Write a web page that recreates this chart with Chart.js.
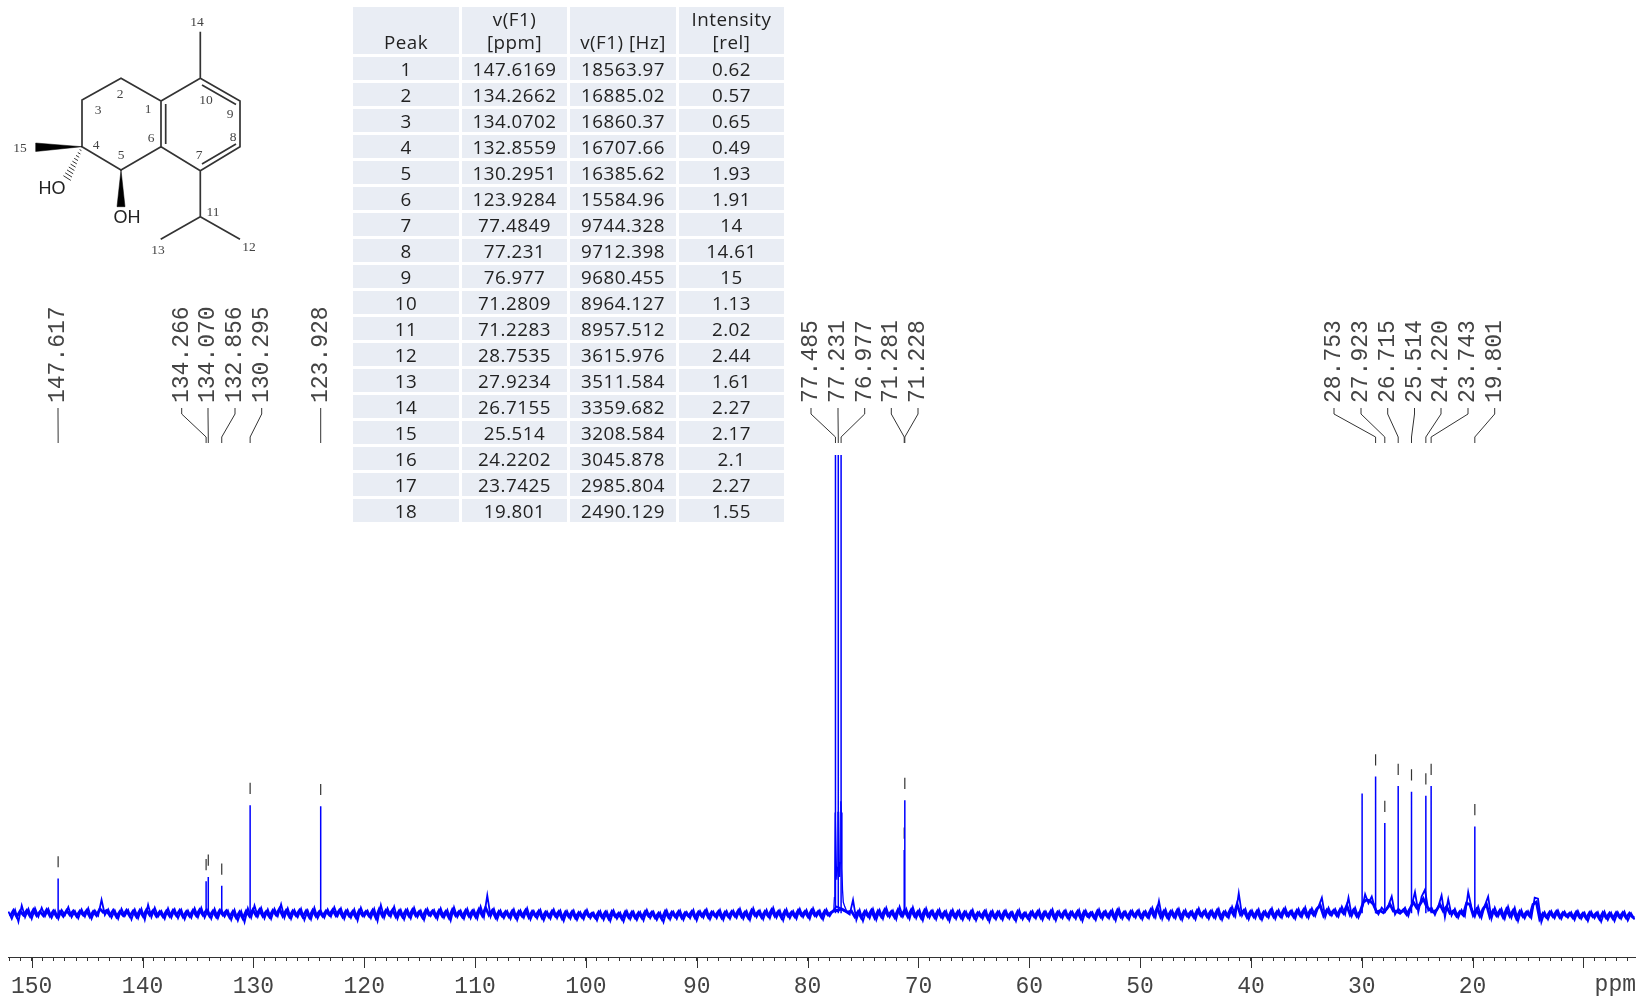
<!DOCTYPE html>
<html>
<head>
<meta charset="utf-8">
<title>13C NMR</title>
<script src="https://cdn.jsdelivr.net/npm/chart.js@4/dist/chart.umd.min.js"></script>
<style>
    html, body { margin: 0; padding: 0; background: #fff; }
    #wrap { position: relative; width: 1641px; height: 1001px; overflow: hidden; }
    canvas { position: absolute; left: 0; top: 0; display: block; }
    #molecule { position: absolute; left: 0; top: 0; filter: blur(0.35px); }
    #molecule text.num { font: 13.5px "Liberation Serif"; fill: #444; text-anchor: middle; dominant-baseline: central; }
    #molecule text.atom { font: 18px "Liberation Sans"; fill: #222; text-anchor: middle; dominant-baseline: central; }
    #peaks { position: absolute; left: 350px; top: 4px; border-collapse: separate; border-spacing: 3px; table-layout: fixed;
        font: 18.8px "Open Sans"; letter-spacing: 0.5px; color: #222; }
    #peaks td { height: 21px; padding: 2px 0 0; line-height: 21px; background: #e9edf4; text-align: center; vertical-align: bottom; white-space: pre-line; }
    #peaks td:nth-child(1), #peaks td:nth-child(3) { width: 106px; }
    #peaks td:nth-child(2), #peaks td:nth-child(4) { width: 105px; }
    #peaks tr:first-child td { height: 46px; padding: 1px 0 0; line-height: 23px; }
</style>
</head>
<body>
<div id="wrap">
    <canvas id="chart" width="1641" height="1001"></canvas>
    <svg id="molecule" width="340" height="290" stroke="#333" stroke-width="1.7" fill="none">
        <path d="M200.3 31.7V78.3L240 101V146.7L200.3 170.7L161 146.7V101L200.3 78.3M161 101L121 78.3L82 100V146.7L121 170L161 146.7M200.3 170.7V216.7L160.7 239.3M200.3 216.7L240 239.3"/>
        <path d="M165.7 104V144M202 85L236 104.5M202 164L236 144"/>
        <path d="M82 146.7L35.7 143V151.5Z M121 170L117 206.7H125Z" fill="#000" stroke="#000" stroke-width="0.5"/>
        <path stroke-width="1" d="M79.6 149.6L81.4 150.6M77.8 152.5L80.4 154M76 155.4L79.2 157.3M74.2 158.3L78 160.6M72.4 161.2L76.8 163.9M70.6 164.1L75.6 167.2M68.8 167L74.4 170.5M67 169.9L73.2 173.8M65.2 172.8L72 177.1M63.4 175.7L70.8 180.4"/>
        <g stroke="none">
            <text class="atom" x="52" y="188">HO</text>
            <text class="atom" x="127" y="217">OH</text>
            <text class="num" x="197" y="21">14</text>
            <text class="num" x="206" y="99">10</text>
            <text class="num" x="230" y="113">9</text>
            <text class="num" x="233" y="136">8</text>
            <text class="num" x="199" y="154">7</text>
            <text class="num" x="151" y="137">6</text>
            <text class="num" x="148" y="108">1</text>
            <text class="num" x="120" y="93">2</text>
            <text class="num" x="98" y="109">3</text>
            <text class="num" x="96" y="144">4</text>
            <text class="num" x="121" y="154">5</text>
            <text class="num" x="20" y="147">15</text>
            <text class="num" x="213" y="211">11</text>
            <text class="num" x="249" y="246">12</text>
            <text class="num" x="158" y="249">13</text>
        </g>
    </svg>
    <table id="peaks"></table>
</div>
<script>
const tableHeaders = ['Peak', 'v(F1)\n[ppm]', 'v(F1) [Hz]', 'Intensity\n[rel]']
const peakNo = [1, 2, 3, 4, 5, 6, 7, 8, 9, 10, 11, 12, 13, 14, 15, 16, 17, 18]
const peakPpmText = ['147.6169', '134.2662', '134.0702', '132.8559', '130.2951', '123.9284', '77.4849', '77.231', '76.977', '71.2809', '71.2283', '28.7535', '27.9234', '26.7155', '25.514', '24.2202', '23.7425', '19.801']
const peakHz = ['18563.97', '16885.02', '16860.37', '16707.66', '16385.62', '15584.96', '9744.328', '9712.398', '9680.455', '8964.127', '8957.512', '3615.976', '3511.584', '3359.682', '3208.584', '3045.878', '2985.804', '2490.129']
const peakRel = [0.62, 0.57, 0.65, 0.49, 1.93, 1.91, 14, 14.61, 15, 1.13, 2.02, 2.44, 1.61, 2.27, 2.17, 2.1, 2.27, 1.55]
const peakLabels = ['147.617', '134.266', '134.070', '132.856', '130.295', '123.928', '77.485', '77.231', '76.977', '71.281', '71.228', '28.753', '27.923', '26.715', '25.514', '24.220', '23.743', '19.801']

// peak that was not picked, next to 28.75
const unpickedPpm = [29.97]
const unpickedRel = [2.14]

// CDCl3 skirt
const solventPpm = [77.66, 77.62, 77.58, 77.54, 77.51, 77.46, 77.4, 77.36, 77.3, 77.26, 77.2, 77.14, 77.1, 77.05, 77, 76.95, 76.9, 76.85, 76.78, 76.65, 76.5]
const solventRel = [0.05, 0.12, 0.28, 0.7, 1.8, 1.8, 0.78, 0.6, 0.82, 1.8, 1.8, 0.85, 0.65, 0.9, 2, 1.8, 0.8, 0.42, 0.2, 0.12, 0.05]

// baseline noise
const noisePpm = [
    152.1, 151.8, 151.5, 151.2, 150.9, 150.6, 150.3, 150, 149.7, 149.4,
    149.1, 148.8, 148.5, 148.2, 147.9, 147.6, 147.3, 147, 146.7, 146.4,
    146.1, 145.8, 145.5, 145.2, 144.9, 144.6, 144.3, 144, 143.7, 143.4,
    143.1, 142.8, 142.5, 142.2, 141.9, 141.6, 141.3, 141, 140.7, 140.4,
    140.1, 139.8, 139.5, 139.2, 138.9, 138.6, 138.3, 138, 137.7, 137.4,
    137.1, 136.8, 136.5, 136.2, 135.9, 135.6, 135.3, 135, 134.7, 134.4,
    134.1, 133.8, 133.5, 133.2, 132.9, 132.6, 132.3, 132, 131.7, 131.4,
    131.1, 130.8, 130.5, 130.2, 129.9, 129.6, 129.3, 129, 128.7, 128.4,
    128.1, 127.8, 127.5, 127.2, 126.9, 126.6, 126.3, 126, 125.7, 125.4,
    125.1, 124.8, 124.5, 124.2, 123.9, 123.6, 123.3, 123, 122.7, 122.4,
    122.1, 121.8, 121.5, 121.2, 120.9, 120.6, 120.3, 120, 119.7, 119.4,
    119.1, 118.8, 118.5, 118.2, 117.9, 117.6, 117.3, 117, 116.7, 116.4,
    116.1, 115.8, 115.5, 115.2, 114.9, 114.6, 114.3, 114, 113.7, 113.4,
    113.1, 112.8, 112.5, 112.2, 111.9, 111.6, 111.3, 111, 110.7, 110.4,
    110.1, 109.8, 109.5, 109.2, 108.9, 108.6, 108.3, 108, 107.7, 107.4,
    107.1, 106.8, 106.5, 106.2, 105.9, 105.6, 105.3, 105, 104.7, 104.4,
    104.1, 103.8, 103.5, 103.2, 102.9, 102.6, 102.3, 102, 101.7, 101.4,
    101.1, 100.8, 100.5, 100.2, 99.9, 99.6, 99.3, 99, 98.7, 98.4,
    98.1, 97.8, 97.5, 97.2, 96.9, 96.6, 96.3, 96, 95.7, 95.4,
    95.1, 94.8, 94.5, 94.2, 93.9, 93.6, 93.3, 93, 92.7, 92.4,
    92.1, 91.8, 91.5, 91.2, 90.9, 90.6, 90.3, 90, 89.7, 89.4,
    89.1, 88.8, 88.5, 88.2, 87.9, 87.6, 87.3, 87, 86.7, 86.4,
    86.1, 85.8, 85.5, 85.2, 84.9, 84.6, 84.3, 84, 83.7, 83.4,
    83.1, 82.8, 82.5, 82.2, 81.9, 81.6, 81.3, 81, 80.7, 80.4,
    80.1, 79.8, 79.5, 79.2, 78.9, 78.6, 78.3, 78, 77.7, 77.4,
    77.1, 76.8, 76.5, 76.2, 75.9, 75.6, 75.3, 75, 74.7, 74.4,
    74.1, 73.8, 73.5, 73.2, 72.9, 72.6, 72.3, 72, 71.7, 71.4,
    71.1, 70.8, 70.5, 70.2, 69.9, 69.6, 69.3, 69, 68.7, 68.4,
    68.1, 67.8, 67.5, 67.2, 66.9, 66.6, 66.3, 66, 65.7, 65.4,
    65.1, 64.8, 64.5, 64.2, 63.9, 63.6, 63.3, 63, 62.7, 62.4,
    62.1, 61.8, 61.5, 61.2, 60.9, 60.6, 60.3, 60, 59.7, 59.4,
    59.1, 58.8, 58.5, 58.2, 57.9, 57.6, 57.3, 57, 56.7, 56.4,
    56.1, 55.8, 55.5, 55.2, 54.9, 54.6, 54.3, 54, 53.7, 53.4,
    53.1, 52.8, 52.5, 52.2, 51.9, 51.6, 51.3, 51, 50.7, 50.4,
    50.1, 49.8, 49.5, 49.2, 48.9, 48.6, 48.3, 48, 47.7, 47.4,
    47.1, 46.8, 46.5, 46.2, 45.9, 45.6, 45.3, 45, 44.7, 44.4,
    44.1, 43.8, 43.5, 43.2, 42.9, 42.6, 42.3, 42, 41.7, 41.4,
    41.1, 40.8, 40.5, 40.2, 39.9, 39.6, 39.3, 39, 38.7, 38.4,
    38.1, 37.8, 37.5, 37.2, 36.9, 36.6, 36.3, 36, 35.7, 35.4,
    35.1, 34.8, 34.5, 34.2, 33.9, 33.6, 33.3, 33, 32.7, 32.4,
    32.1, 31.8, 31.5, 31.2, 30.9, 30.6, 30.3, 30, 29.7, 29.4,
    29.1, 28.8, 28.5, 28.2, 27.9, 27.6, 27.3, 27, 26.7, 26.4,
    26.1, 25.8, 25.5, 25.2, 24.9, 24.6, 24.3, 24, 23.7, 23.4,
    23.1, 22.8, 22.5, 22.2, 21.9, 21.6, 21.3, 21, 20.7, 20.4,
    20.1, 19.8, 19.5, 19.2, 18.9, 18.6, 18.3, 18, 17.7, 17.4,
    17.1, 16.8, 16.5, 16.2, 15.9, 15.6, 15.3, 15, 14.7, 14.4,
    14.1, 13.8, 13.5, 13.2, 12.9, 12.6, 12.3, 12, 11.7, 11.4,
    11.1, 10.8, 10.5, 10.2, 9.9, 9.6, 9.3, 9, 8.7, 8.4,
    8.1, 7.8, 7.5, 7.2, 6.9, 6.6, 6.3, 6, 5.7, 5.4
]
const noiseRel = [
    0.03, -0.1, 0.06, -0.15, 0.14, -0.07, 0.08, -0.1, 0.09, -0.06,
    0.1, -0.05, 0.08, -0.08, 0.05, -0.1, 0.06, -0.03, 0.11, -0.07,
    0.04, -0.09, 0.07, -0.06, 0.09, -0.1, 0.05, -0.04, 0.24, -0.03,
    0.07, -0.08, 0.05, -0.1, 0.08, -0.05, 0.06, -0.11, 0.07, -0.09,
    0.08, -0.12, 0.15, -0.07, 0.1, -0.06, 0.04, -0.1, 0.09, -0.08,
    0.07, -0.09, 0.06, -0.11, 0.05, -0.08, 0.09, -0.07, 0.1, -0.08,
    0.06, -0.1, 0.08, -0.09, 0.07, -0.06, 0.05, -0.12, 0.06, -0.13,
    0.04, -0.16, 0.09, -0.08, 0.14, -0.06, 0.1, -0.09, 0.07, -0.1,
    0.08, -0.05, 0.16, -0.08, 0.09, -0.1, 0.06, -0.07, 0.08, -0.12,
    0.05, -0.11, 0.1, -0.09, 0.04, -0.08, 0.07, -0.06, 0.11, -0.05,
    0.09, -0.1, 0.06, -0.08, 0.07, -0.13, 0.1, -0.06, 0.05, -0.09,
    0.08, -0.14, 0.15, -0.08, 0.09, -0.06, 0.12, -0.1, 0.06, -0.11,
    0.07, -0.09, 0.1, -0.07, 0.05, -0.12, 0.08, -0.05, 0.06, -0.1,
    0.09, -0.08, 0.06, -0.13, 0.11, -0.07, 0.05, -0.1, 0.08, -0.09,
    0.06, -0.1, 0.12, -0.07, 0.32, -0.06, 0.08, -0.11, 0.05, -0.09,
    0.04, -0.1, 0.07, -0.12, 0.05, -0.08, 0.09, -0.11, 0.04, -0.09,
    0.06, -0.13, 0.03, -0.1, 0.07, -0.09, 0.05, -0.14, 0.04, -0.1,
    0.05, -0.12, 0.02, -0.11, 0.06, -0.09, 0.01, -0.13, 0.04, -0.12,
    0.03, -0.14, 0.05, -0.1, 0.01, -0.15, 0.04, -0.11, 0.03, -0.12,
    0.02, -0.13, 0.06, -0.09, 0.03, -0.12, 0.01, -0.16, 0.05, -0.11,
    0.03, -0.1, 0.05, -0.12, 0.02, -0.09, 0.06, -0.13, 0.04, -0.08,
    0.07, -0.11, 0.03, -0.09, 0.06, -0.12, 0.04, -0.1, 0.05, -0.08,
    0.08, -0.1, 0.04, -0.12, 0.09, -0.07, 0.05, -0.11, 0.06, -0.09,
    0.1, -0.08, 0.05, -0.13, 0.07, -0.09, 0.04, -0.1, 0.08, -0.07,
    0.06, -0.1, 0.09, -0.06, 0.05, -0.11, 0.07, -0.05, 0.05, 0.12,
    0.1, 0.05, 0.02, -0.02, 0.24, -0.12, 0.06, -0.14, 0.05, -0.09,
    0.08, -0.12, 0.06, -0.1, 0.1, -0.07, 0.05, -0.11, 0.12, -0.06,
    0.08, -0.1, 0.11, -0.09, 0.06, -0.13, 0.09, -0.08, 0.05, -0.11,
    0.07, -0.09, 0.04, -0.14, 0.06, -0.1, 0.05, -0.12, 0.03, -0.11,
    0.06, -0.13, 0.02, -0.1, 0.05, -0.15, 0.04, -0.11, 0.03, -0.12,
    0.05, -0.1, 0.02, -0.14, 0.06, -0.11, 0.01, -0.13, 0.04, -0.09,
    0.06, -0.12, 0.03, -0.1, 0.07, -0.13, 0.04, -0.09, 0.05, -0.11,
    0.03, -0.1, 0.06, -0.14, 0.05, -0.08, 0.02, -0.12, 0.07, -0.1,
    0.04, -0.09, 0.06, -0.13, 0.08, -0.1, 0.03, -0.11, 0.05, -0.08,
    0.06, -0.11, 0.04, -0.09, 0.1, -0.07, 0.22, -0.1, 0.07, -0.11,
    0.05, -0.09, 0.08, -0.12, 0.06, -0.08, 0.04, -0.11, 0.09, -0.07,
    0.06, -0.1, 0.05, -0.09, 0.08, -0.12, 0.04, -0.08, 0.12, -0.05,
    0.36, -0.04, 0.08, -0.11, 0.05, -0.09, 0.07, -0.12, 0.04, -0.08,
    0.09, -0.1, 0.06, -0.08, 0.1, -0.06, 0.05, -0.1, 0.08, -0.07,
    0.11, -0.08, 0.09, -0.05, 0.12, 0.28, -0.07, 0.1, -0.04, 0.08,
    -0.06, 0.12, -0.02, 0.28, -0.05, 0.1, -0.08, 0.06, 0.34, 0.18,
    0.3, 0.08, -0.02, 0.1, 0.03, 0.14, 0.3, -0.02, 0.08, 0.02,
    0.1, -0.05, 0.14, 0.38, 0.02, 0.3, 0.42, 0.05, 0.1, -0.03,
    0.12, 0.32, -0.07, 0.25, -0.04, 0.08, -0.08, 0.06, -0.05, 0.38,
    0.1, -0.06, 0.12, -0.08, 0.14, 0.3, -0.1, 0.1, -0.06, 0.08,
    -0.1, 0.12, -0.08, 0.1, -0.14, 0.06, -0.09, 0.04, -0.08, 0.28,
    0.26, -0.16, 0.02, -0.11, 0.04, -0.09, 0.05, -0.1, 0.03, -0.08,
    0.02, -0.12, 0.04, -0.1, 0.01, -0.14, 0.03, -0.09, 0.02, -0.15,
    0.03, -0.12, 0.01, -0.14, 0.02, -0.1, 0.03, -0.13, 0, -0.11
]

// second pass over the same band, fills the solid core of the noise
const corePpm = [
    151.95, 151.65, 151.35, 151.05, 150.75, 150.45, 150.15, 149.85, 149.55, 149.25,
    148.95, 148.65, 148.35, 148.05, 147.75, 147.45, 147.15, 146.85, 146.55, 146.25,
    145.95, 145.65, 145.35, 145.05, 144.75, 144.45, 144.15, 143.85, 143.55, 143.25,
    142.95, 142.65, 142.35, 142.05, 141.75, 141.45, 141.15, 140.85, 140.55, 140.25,
    139.95, 139.65, 139.35, 139.05, 138.75, 138.45, 138.15, 137.85, 137.55, 137.25,
    136.95, 136.65, 136.35, 136.05, 135.75, 135.45, 135.15, 134.85, 134.55, 134.25,
    133.95, 133.65, 133.35, 133.05, 132.75, 132.45, 132.15, 131.85, 131.55, 131.25,
    130.95, 130.65, 130.35, 130.05, 129.75, 129.45, 129.15, 128.85, 128.55, 128.25,
    127.95, 127.65, 127.35, 127.05, 126.75, 126.45, 126.15, 125.85, 125.55, 125.25,
    124.95, 124.65, 124.35, 124.05, 123.75, 123.45, 123.15, 122.85, 122.55, 122.25,
    121.95, 121.65, 121.35, 121.05, 120.75, 120.45, 120.15, 119.85, 119.55, 119.25,
    118.95, 118.65, 118.35, 118.05, 117.75, 117.45, 117.15, 116.85, 116.55, 116.25,
    115.95, 115.65, 115.35, 115.05, 114.75, 114.45, 114.15, 113.85, 113.55, 113.25,
    112.95, 112.65, 112.35, 112.05, 111.75, 111.45, 111.15, 110.85, 110.55, 110.25,
    109.95, 109.65, 109.35, 109.05, 108.75, 108.45, 108.15, 107.85, 107.55, 107.25,
    106.95, 106.65, 106.35, 106.05, 105.75, 105.45, 105.15, 104.85, 104.55, 104.25,
    103.95, 103.65, 103.35, 103.05, 102.75, 102.45, 102.15, 101.85, 101.55, 101.25,
    100.95, 100.65, 100.35, 100.05, 99.75, 99.45, 99.15, 98.85, 98.55, 98.25,
    97.95, 97.65, 97.35, 97.05, 96.75, 96.45, 96.15, 95.85, 95.55, 95.25,
    94.95, 94.65, 94.35, 94.05, 93.75, 93.45, 93.15, 92.85, 92.55, 92.25,
    91.95, 91.65, 91.35, 91.05, 90.75, 90.45, 90.15, 89.85, 89.55, 89.25,
    88.95, 88.65, 88.35, 88.05, 87.75, 87.45, 87.15, 86.85, 86.55, 86.25,
    85.95, 85.65, 85.35, 85.05, 84.75, 84.45, 84.15, 83.85, 83.55, 83.25,
    82.95, 82.65, 82.35, 82.05, 81.75, 81.45, 81.15, 80.85, 80.55, 80.25,
    79.95, 79.65, 79.35, 79.05, 78.75, 78.45, 78.15, 77.85, 77.55, 77.25,
    76.95, 76.65, 76.35, 76.05, 75.75, 75.45, 75.15, 74.85, 74.55, 74.25,
    73.95, 73.65, 73.35, 73.05, 72.75, 72.45, 72.15, 71.85, 71.55, 71.25,
    70.95, 70.65, 70.35, 70.05, 69.75, 69.45, 69.15, 68.85, 68.55, 68.25,
    67.95, 67.65, 67.35, 67.05, 66.75, 66.45, 66.15, 65.85, 65.55, 65.25,
    64.95, 64.65, 64.35, 64.05, 63.75, 63.45, 63.15, 62.85, 62.55, 62.25,
    61.95, 61.65, 61.35, 61.05, 60.75, 60.45, 60.15, 59.85, 59.55, 59.25,
    58.95, 58.65, 58.35, 58.05, 57.75, 57.45, 57.15, 56.85, 56.55, 56.25,
    55.95, 55.65, 55.35, 55.05, 54.75, 54.45, 54.15, 53.85, 53.55, 53.25,
    52.95, 52.65, 52.35, 52.05, 51.75, 51.45, 51.15, 50.85, 50.55, 50.25,
    49.95, 49.65, 49.35, 49.05, 48.75, 48.45, 48.15, 47.85, 47.55, 47.25,
    46.95, 46.65, 46.35, 46.05, 45.75, 45.45, 45.15, 44.85, 44.55, 44.25,
    43.95, 43.65, 43.35, 43.05, 42.75, 42.45, 42.15, 41.85, 41.55, 41.25,
    40.95, 40.65, 40.35, 40.05, 39.75, 39.45, 39.15, 38.85, 38.55, 38.25,
    37.95, 37.65, 37.35, 37.05, 36.75, 36.45, 36.15, 35.85, 35.55, 35.25,
    34.95, 34.65, 34.35, 34.05, 33.75, 33.45, 33.15, 32.85, 32.55, 32.25,
    31.95, 31.65, 31.35, 31.05, 30.75, 30.45, 30.15, 29.85, 29.55, 29.25,
    28.95, 28.65, 28.35, 28.05, 27.75, 27.45, 27.15, 26.85, 26.55, 26.25,
    25.95, 25.65, 25.35, 25.05, 24.75, 24.45, 24.15, 23.85, 23.55, 23.25,
    22.95, 22.65, 22.35, 22.05, 21.75, 21.45, 21.15, 20.85, 20.55, 20.25,
    19.95, 19.65, 19.35, 19.05, 18.75, 18.45, 18.15, 17.85, 17.55, 17.25,
    16.95, 16.65, 16.35, 16.05, 15.75, 15.45, 15.15, 14.85, 14.55, 14.25,
    13.95, 13.65, 13.35, 13.05, 12.75, 12.45, 12.15, 11.85, 11.55, 11.25,
    10.95, 10.65, 10.35, 10.05, 9.75, 9.45, 9.15, 8.85, 8.55, 8.25,
    7.95, 7.65, 7.35, 7.05, 6.75, 6.45, 6.15, 5.85, 5.55, 5.4
]
const coreRel = [
    -0.05, 0.05, -0.06, 0.04, -0.03, 0.05, -0.05, 0.06, -0.04, 0.03,
    -0.04, 0.06, -0.05, 0.04, -0.06, 0.03, -0.05, 0.05, -0.03, 0.04,
    -0.05, 0.04, -0.03, 0.05, -0.06, 0.03, -0.04, 0.08, 0.02, 0.05,
    -0.04, 0.05, -0.06, 0.03, -0.04, 0.05, -0.05, 0.04, -0.06, 0.05,
    -0.05, 0.06, -0.03, 0.05, -0.05, 0.03, -0.06, 0.04, -0.05, 0.05,
    -0.04, 0.05, -0.06, 0.03, -0.05, 0.05, -0.04, 0.06, -0.03, 0.05,
    -0.05, 0.04, -0.06, 0.05, -0.03, 0.04, -0.07, 0.03, -0.08, 0.02,
    -0.09, 0.04, -0.05, 0.06, -0.04, 0.06, -0.05, 0.03, -0.06, 0.05,
    -0.03, 0.08, -0.05, 0.05, -0.06, 0.04, -0.04, 0.05, -0.06, 0.04,
    -0.07, 0.05, -0.05, 0.03, -0.05, 0.04, -0.03, 0.06, -0.04, 0.05,
    -0.06, 0.04, -0.05, 0.03, -0.07, 0.05, -0.04, 0.03, -0.05, 0.05,
    -0.08, 0.07, -0.05, 0.05, -0.03, 0.06, -0.06, 0.04, -0.06, 0.05,
    -0.05, 0.06, -0.04, 0.03, -0.07, 0.05, -0.03, 0.04, -0.06, 0.05,
    -0.05, 0.03, -0.08, 0.06, -0.04, 0.03, -0.06, 0.05, -0.05, 0.04,
    -0.06, 0.07, -0.04, 0.1, -0.03, 0.05, -0.07, 0.03, -0.05, 0.03,
    -0.06, 0.04, -0.07, 0.03, -0.05, 0.05, -0.07, 0.03, -0.05, 0.04,
    -0.08, 0.02, -0.06, 0.04, -0.05, 0.03, -0.09, 0.02, -0.06, 0.03,
    -0.08, 0.01, -0.07, 0.03, -0.05, 0, -0.08, 0.02, -0.07, 0.02,
    -0.09, 0.03, -0.06, 0, -0.1, 0.02, -0.07, 0.02, -0.08, 0.01,
    -0.08, 0.03, -0.05, 0.02, -0.08, 0, -0.1, 0.03, -0.07, 0.02,
    -0.06, 0.03, -0.08, 0.01, -0.05, 0.03, -0.08, 0.02, -0.05, 0.04,
    -0.07, 0.02, -0.05, 0.03, -0.08, 0.02, -0.06, 0.03, -0.05, 0.05,
    -0.06, 0.02, -0.08, 0.05, -0.04, 0.03, -0.07, 0.03, -0.05, 0.06,
    -0.05, 0.03, -0.08, 0.04, -0.05, 0.02, -0.06, 0.05, -0.04, 0.03,
    -0.06, 0.05, -0.04, 0.03, -0.07, 0.04, -0.03, 0.02, 0.05, 0.05,
    0.08, 0.05, 0.02, 0.04, -0.06, 0.03, -0.08, 0.03, -0.05, 0.05,
    -0.08, 0.04, -0.06, 0.06, -0.04, 0.03, -0.07, 0.06, -0.04, 0.05,
    -0.06, 0.06, -0.05, 0.03, -0.08, 0.05, -0.05, 0.03, -0.07, 0.04,
    -0.06, 0.02, -0.09, 0.03, -0.06, 0.03, -0.08, 0.02, -0.07, 0.03,
    -0.08, 0.01, -0.06, 0.03, -0.09, 0.02, -0.07, 0.02, -0.08, 0.03,
    -0.06, 0.01, -0.09, 0.03, -0.07, 0, -0.08, 0.02, -0.06, 0.03,
    -0.08, 0.02, -0.06, 0.04, -0.08, 0.02, -0.06, 0.03, -0.07, 0.02,
    -0.06, 0.03, -0.09, 0.03, -0.05, 0.01, -0.08, 0.04, -0.06, 0.02,
    -0.06, 0.03, -0.08, 0.05, -0.06, 0.02, -0.07, 0.03, -0.05, 0.03,
    -0.07, 0.02, -0.06, 0.06, -0.05, 0.1, -0.06, 0.04, -0.07, 0.03,
    -0.06, 0.05, -0.08, 0.03, -0.05, 0.02, -0.07, 0.05, -0.04, 0.03,
    -0.06, 0.03, -0.06, 0.05, -0.08, 0.02, -0.05, 0.07, -0.03, 0.16,
    -0.02, 0.05, -0.07, 0.03, -0.06, 0.04, -0.08, 0.02, -0.05, 0.05,
    -0.06, 0.03, -0.05, 0.06, -0.04, 0.03, -0.06, 0.05, -0.04, 0.06,
    -0.05, 0.05, -0.03, 0.08, 0.14, -0.04, 0.06, -0.02, 0.05, -0.04,
    0.07, 0, 0.14, -0.03, 0.06, -0.05, 0.03, 0.2, 0.24, 0.22,
    0.16, 0.02, 0.05, 0.01, 0.08, 0.16, 0.04, 0.04, 0, 0.06,
    -0.02, 0.08, 0.2, 0.1, 0.16, 0.26, 0.12, 0.06, 0.02, 0.06,
    0.16, 0.04, 0.12, 0, 0.04, -0.05, 0.03, -0.03, 0.18, 0.16,
    -0.03, 0.07, -0.05, 0.08, 0.16, -0.06, 0.05, -0.04, 0.05, -0.07,
    0.07, -0.05, 0.05, -0.09, 0.03, -0.06, 0.02, -0.05, 0.16, 0.2,
    -0.1, 0, -0.07, 0.02, -0.06, 0.03, -0.07, 0.01, -0.05, 0,
    -0.08, 0.02, -0.07, 0, -0.09, 0.01, -0.06, 0, -0.1, 0.01,
    -0.08, 0, -0.09, 0.01, -0.07, 0.01, -0.08, 0, -0.07, -0.08
]

const tickGapRel = 0.2
const tickHeightRel = 0.2

const table = document.getElementById('peaks')
const addRow = (cells) => {
    const row = table.insertRow()
    cells.forEach(c => { row.insertCell().textContent = c })
}
addRow(tableHeaders)
peakNo.forEach((n, i) => addRow([n, peakPpmText[i], peakHz[i], peakRel[i]]))

const peakPpm = peakPpmText.map(Number)
const sticks = (ppms, rels) => ppms.flatMap((p, i) => [{ x: p, y: 0 }, { x: p, y: rels[i] }, { x: p, y: null }])

// the x pixel each rotated label hangs from
const leaderTops = [58, 181.7, 208, 235, 261.7, 320.7, 811, 838, 864.7, 891.3, 918, 1334, 1361, 1387.7, 1414.5, 1441, 1468, 1494.7]

const nmrDecor = {
    id: 'nmrDecor',
    afterDraw(chart) {
        const ctx = chart.ctx
        const x = chart.scales.x
        ctx.save()
        // long ticks every 10 ppm
        ctx.strokeStyle = '#333'
        ctx.lineWidth = 1
        x.ticks.forEach(t => {
            if (t.value % 10 !== 0) return
            const px = Math.round(x.getPixelForValue(t.value)) + 0.5
            ctx.beginPath()
            ctx.moveTo(px, x.top)
            ctx.lineTo(px, x.top + 11)
            ctx.stroke()
        })
        ctx.font = '23px "Liberation Mono"'
        ctx.fillStyle = '#444'
        ctx.textAlign = 'right'
        ctx.textBaseline = 'middle'
        ctx.fillText('ppm', 1636, 985)
        // peak labels and their leaders
        peakLabels.forEach((label, i) => {
            const top = leaderTops[i]
            const bottom = x.getPixelForValue(peakPpm[i])
            ctx.strokeStyle = '#333'
            ctx.beginPath()
            ctx.moveTo(top, 408)
            ctx.lineTo(top, 414)
            ctx.lineTo(bottom, 437)
            ctx.lineTo(bottom, 443)
            ctx.stroke()
            ctx.save()
            ctx.translate(top - 1, 403)
            ctx.rotate(-Math.PI / 2)
            ctx.textAlign = 'left'
            ctx.fillStyle = '#444'
            ctx.fillText(label, 0, 1)
            ctx.restore()
        })
        ctx.restore()
    }
}

new Chart(document.getElementById('chart'), {
    type: 'line',
    plugins: [nmrDecor],
    data: {
        datasets: [
            {
                label: 'baseline',
                data: noisePpm.map((p, i) => ({ x: p, y: noiseRel[i] })),
                borderColor: '#0000ff',
                borderWidth: 1.8
            },
            {
                label: 'core',
                data: corePpm.map((p, i) => ({ x: p, y: coreRel[i] })),
                borderColor: '#0000ff',
                borderWidth: 2.8
            },
            {
                label: 'solvent',
                data: solventPpm.map((p, i) => ({ x: p, y: solventRel[i] })),
                borderColor: '#0000ff',
                borderWidth: 1.3
            },
            {
                label: 'peaks',
                data: sticks(peakPpm, peakRel).concat(sticks(unpickedPpm, unpickedRel)),
                borderColor: '#0000ff',
                borderWidth: 1.5
            },
            {
                label: 'picked',
                data: peakPpm.flatMap((p, i) => [
                    { x: p, y: peakRel[i] + tickGapRel },
                    { x: p, y: peakRel[i] + tickGapRel + tickHeightRel },
                    { x: p, y: null }
                ]),
                borderColor: '#333',
                borderWidth: 1.2
            }
        ]
    },
    options: {
        responsive: false,
        animation: false,
        events: [],
        layout: { padding: { left: 8, right: 6, top: 455, bottom: 0 } },
        elements: { point: { radius: 0 }, line: { tension: 0 } },
        plugins: { legend: { display: false }, tooltip: { enabled: false } },
        scales: {
            x: {
                type: 'linear',
                reverse: true,
                min: 5.35,
                max: 152.14,
                afterFit: (scale) => {
                    scale.height = 44
                    scale.paddingLeft = 0
                    scale.paddingRight = 0
                },
                border: { display: true, color: '#333', width: 1 },
                grid: { drawOnChartArea: false, drawTicks: true, tickLength: 4, color: '#333' },
                ticks: {
                    stepSize: 1,
                    autoSkip: false,
                    includeBounds: false,
                    maxRotation: 0,
                    padding: 12,
                    color: '#444',
                    font: { family: 'Liberation Mono', size: 23 },
                    callback: (v) => (v % 10 === 0 && v !== 10 ? String(v) : '')
                }
            },
            y: { display: false, min: -0.78, max: 8.18 }
        }
    }
})
</script>
</body>
</html>
